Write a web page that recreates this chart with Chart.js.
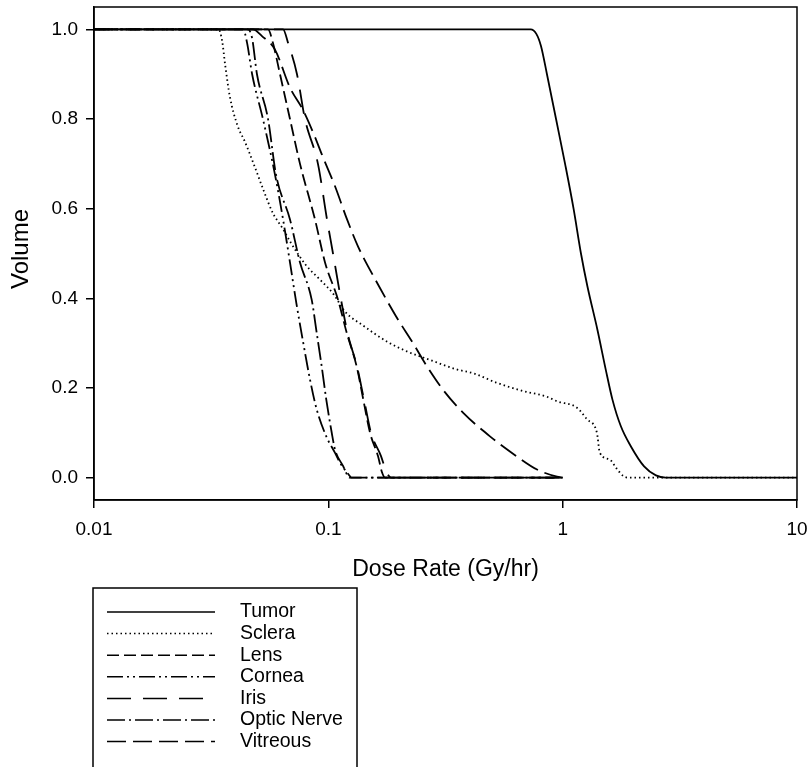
<!DOCTYPE html>
<html>
<head>
<meta charset="utf-8">
<title>Dose rate volume histogram</title>
<script src="https://cdn.jsdelivr.net/npm/chart.js@4/dist/chart.umd.min.js"></script>
<style>
  html, body { margin: 0; padding: 0; background: #fff; }
  canvas { display: block; }
</style>
</head>
<body>
<canvas id="dvh" width="812" height="767"></canvas>
<script>
// Axis ticks and labels
const X_TICKS = [0.01, 0.1, 1, 10];
const X_TICK_LABELS = ['0.01', '0.1', '1', '10'];
const Y_TICKS = [0, 0.2, 0.4, 0.6, 0.8, 1.0];
const X_TITLE = 'Dose Rate (Gy/hr)';
const Y_TITLE = 'Volume';

// Structures, in legend order
const STRUCTURES = ['Tumor', 'Sclera', 'Lens', 'Cornea', 'Iris', 'Optic Nerve', 'Vitreous'];

// Cumulative volume fraction vs dose rate (Gy/hr) per structure
const tumorDose   = [0.01, 0.73, 0.772, 0.808, 0.857, 0.937, 1.024, 1.113, 1.197, 1.275, 1.407, 1.527, 1.631, 1.77, 1.953, 2.226, 2.5, 2.75, 10];
const tumorVolume = [1, 1, 0.99, 0.963, 0.9, 0.8, 0.7, 0.6, 0.5, 0.427, 0.33, 0.241, 0.174, 0.115, 0.07, 0.025, 0.005, 0, 0];

const scleraDose   = [0.01, 0.034, 0.0352, 0.0363, 0.038, 0.041, 0.044, 0.048, 0.053, 0.058, 0.064, 0.069, 0.08, 0.092, 0.105, 0.118, 0.14, 0.18, 0.22, 0.27, 0.35, 0.42, 0.52, 0.68, 0.85, 0.95, 1.15, 1.27, 1.4, 1.44, 1.59, 1.7, 1.82, 1.9, 10];
const scleraVolume = [1, 1, 0.975, 0.92, 0.85, 0.785, 0.75, 0.70, 0.64, 0.59, 0.555, 0.525, 0.475, 0.442, 0.41, 0.37, 0.34, 0.302, 0.28, 0.263, 0.242, 0.232, 0.212, 0.193, 0.181, 0.17, 0.156, 0.13, 0.1, 0.056, 0.04, 0.02, 0.003, 0, 0];

const lensDose   = [0.01, 0.0553, 0.058, 0.0622, 0.0686, 0.0757, 0.0877, 0.0968, 0.110, 0.1198, 0.1321, 0.141, 0.1506, 0.1629, 0.1694, 0.1746, 1];
const lensVolume = [1, 1, 0.97, 0.9, 0.8, 0.7, 0.576, 0.48, 0.397, 0.323, 0.248, 0.174, 0.1, 0.048, 0.012, 0, 0];

const corneaDose   = [0.01, 0.0433, 0.045, 0.0473, 0.0526, 0.0592, 0.0641, 0.0686, 0.073, 0.0782, 0.0835, 0.0892, 0.098, 0.1068, 0.1122, 0.1237, 0.125, 1];
const corneaVolume = [1, 1, 0.97, 0.9, 0.8, 0.676, 0.576, 0.48, 0.39, 0.3, 0.219, 0.152, 0.092, 0.055, 0.033, 0.003, 0, 0];

const irisDose   = [0.01, 0.0641, 0.0673, 0.0735, 0.0795, 0.0903, 0.0987, 0.1047, 0.1133, 0.1207, 0.1325, 0.142, 0.1521, 0.1678, 0.1762, 0.1851, 1];
const irisVolume = [1, 1, 0.97, 0.9, 0.8, 0.7, 0.576, 0.5, 0.397, 0.323, 0.248, 0.174, 0.1, 0.048, 0.015, 0, 0];

const opticDose   = [0.01, 0.0454, 0.0473, 0.0496, 0.0553, 0.0598, 0.0686, 0.0757, 0.0849, 0.0892, 0.0937, 0.098, 0.1034, 0.1068, 0.1158, 0.1213, 0.123, 1];
const opticVolume = [1, 1, 0.98, 0.9, 0.8, 0.676, 0.576, 0.48, 0.397, 0.323, 0.248, 0.174, 0.1, 0.0625, 0.025, 0.003, 0, 0];

const vitreousDose   = [0.01, 0.0477, 0.0521, 0.0592, 0.0686, 0.078, 0.0877, 0.094, 0.1068, 0.1202, 0.1338, 0.1645, 0.1944, 0.2298, 0.2637, 0.3085, 0.3755, 0.4895, 0.6384, 0.7772, 0.9458, 1];
const vitreousVolume = [1, 1, 0.985, 0.955, 0.87, 0.82, 0.76, 0.72, 0.65, 0.576, 0.516, 0.427, 0.36, 0.3, 0.248, 0.196, 0.145, 0.092, 0.047, 0.018, 0.002, 0];

const DOSES   = [tumorDose, scleraDose, lensDose, corneaDose, irisDose, opticDose, vitreousDose];
const VOLUMES = [tumorVolume, scleraVolume, lensVolume, corneaVolume, irisVolume, opticVolume, vitreousVolume];

// SigmaPlot-style line patterns
const DASHES = [[], [1.5, 3], [12, 5], [16, 4, 2, 4, 2, 4], [24, 12], [18, 4, 2, 4], [19, 7]];

const FONT = '"Liberation Sans", Arial, sans-serif';
Chart.defaults.font.family = FONT;
Chart.defaults.color = '#000';

const datasets = STRUCTURES.map((name, i) => ({
  label: name,
  data: DOSES[i].map((d, j) => ({ x: d, y: VOLUMES[i][j] })),
  borderColor: '#000',
  borderWidth: 1.8,
  borderDash: DASHES[i],
  pointRadius: 0,
  fill: false,
  cubicInterpolationMode: 'monotone'
}));

// box round the plot area, axis titles and the legend panel
const decorations = {
  id: 'decorations',
  afterDraw(chart) {
    const { ctx, chartArea: a } = chart;
    ctx.save();
    ctx.strokeStyle = '#000';
    ctx.lineWidth = 1.5;
    ctx.strokeRect(a.left, a.top, a.right - a.left, a.bottom - a.top);

    ctx.fillStyle = '#000';
    ctx.font = '23px ' + FONT;
    ctx.textAlign = 'center';
    ctx.textBaseline = 'middle';
    ctx.fillText(X_TITLE, (a.left + a.right) / 2, 570);
    ctx.save();
    ctx.translate(21, 249);
    ctx.rotate(-Math.PI / 2);
    ctx.font = '24px ' + FONT;
    ctx.fillText(Y_TITLE, 0, 0);
    ctx.restore();

    // legend
    ctx.lineWidth = 1.5;
    ctx.strokeRect(93, 588, 264, 200);
    ctx.font = '19.5px ' + FONT;
    ctx.textAlign = 'left';
    chart.data.datasets.forEach((ds, i) => {
      const y = 612 + i * 21.6;
      ctx.beginPath();
      ctx.setLineDash(ds.borderDash);
      ctx.moveTo(107, y);
      ctx.lineTo(215, y);
      ctx.stroke();
      ctx.setLineDash([]);
      ctx.fillText(ds.label, 240, y);
    });
    ctx.restore();
  }
};

new Chart(document.getElementById('dvh'), {
  type: 'line',
  data: { datasets },
  options: {
    responsive: false,
    animation: false,
    layout: { padding: { top: 7, right: 15, bottom: 0, left: 0 } },
    plugins: { legend: { display: false }, tooltip: { enabled: false } },
    scales: {
      x: {
        type: 'logarithmic',
        min: 0.01,
        max: 10,
        afterBuildTicks(scale) { scale.ticks = X_TICKS.map(v => ({ value: v })); },
        afterFit(scale) {
          scale.height = 267;
          scale.paddingLeft = 0;
          scale.paddingRight = 0;
        },
        ticks: {
          font: { size: 19 },
          padding: 10,
          maxRotation: 0,
          callback: (v) => X_TICK_LABELS[X_TICKS.indexOf(v)]
        },
        grid: { drawOnChartArea: false, drawTicks: true, tickLength: 8, color: '#000', lineWidth: 1.5 },
        border: { color: '#000', width: 1.5 }
      },
      y: {
        min: -0.05,
        max: 1.05,
        afterBuildTicks(scale) { scale.ticks = Y_TICKS.map(v => ({ value: v })); },
        afterFit(scale) {
          scale.width = 94;
          scale.paddingTop = 0;
          scale.paddingBottom = 0;
        },
        ticks: {
          font: { size: 19 },
          padding: 8,
          callback: (v) => v.toFixed(1)
        },
        grid: { drawOnChartArea: false, drawTicks: true, tickLength: 8, color: '#000', lineWidth: 1.5 },
        border: { color: '#000', width: 1.5 }
      }
    }
  },
  plugins: [decorations]
});
</script>
</body>
</html>
